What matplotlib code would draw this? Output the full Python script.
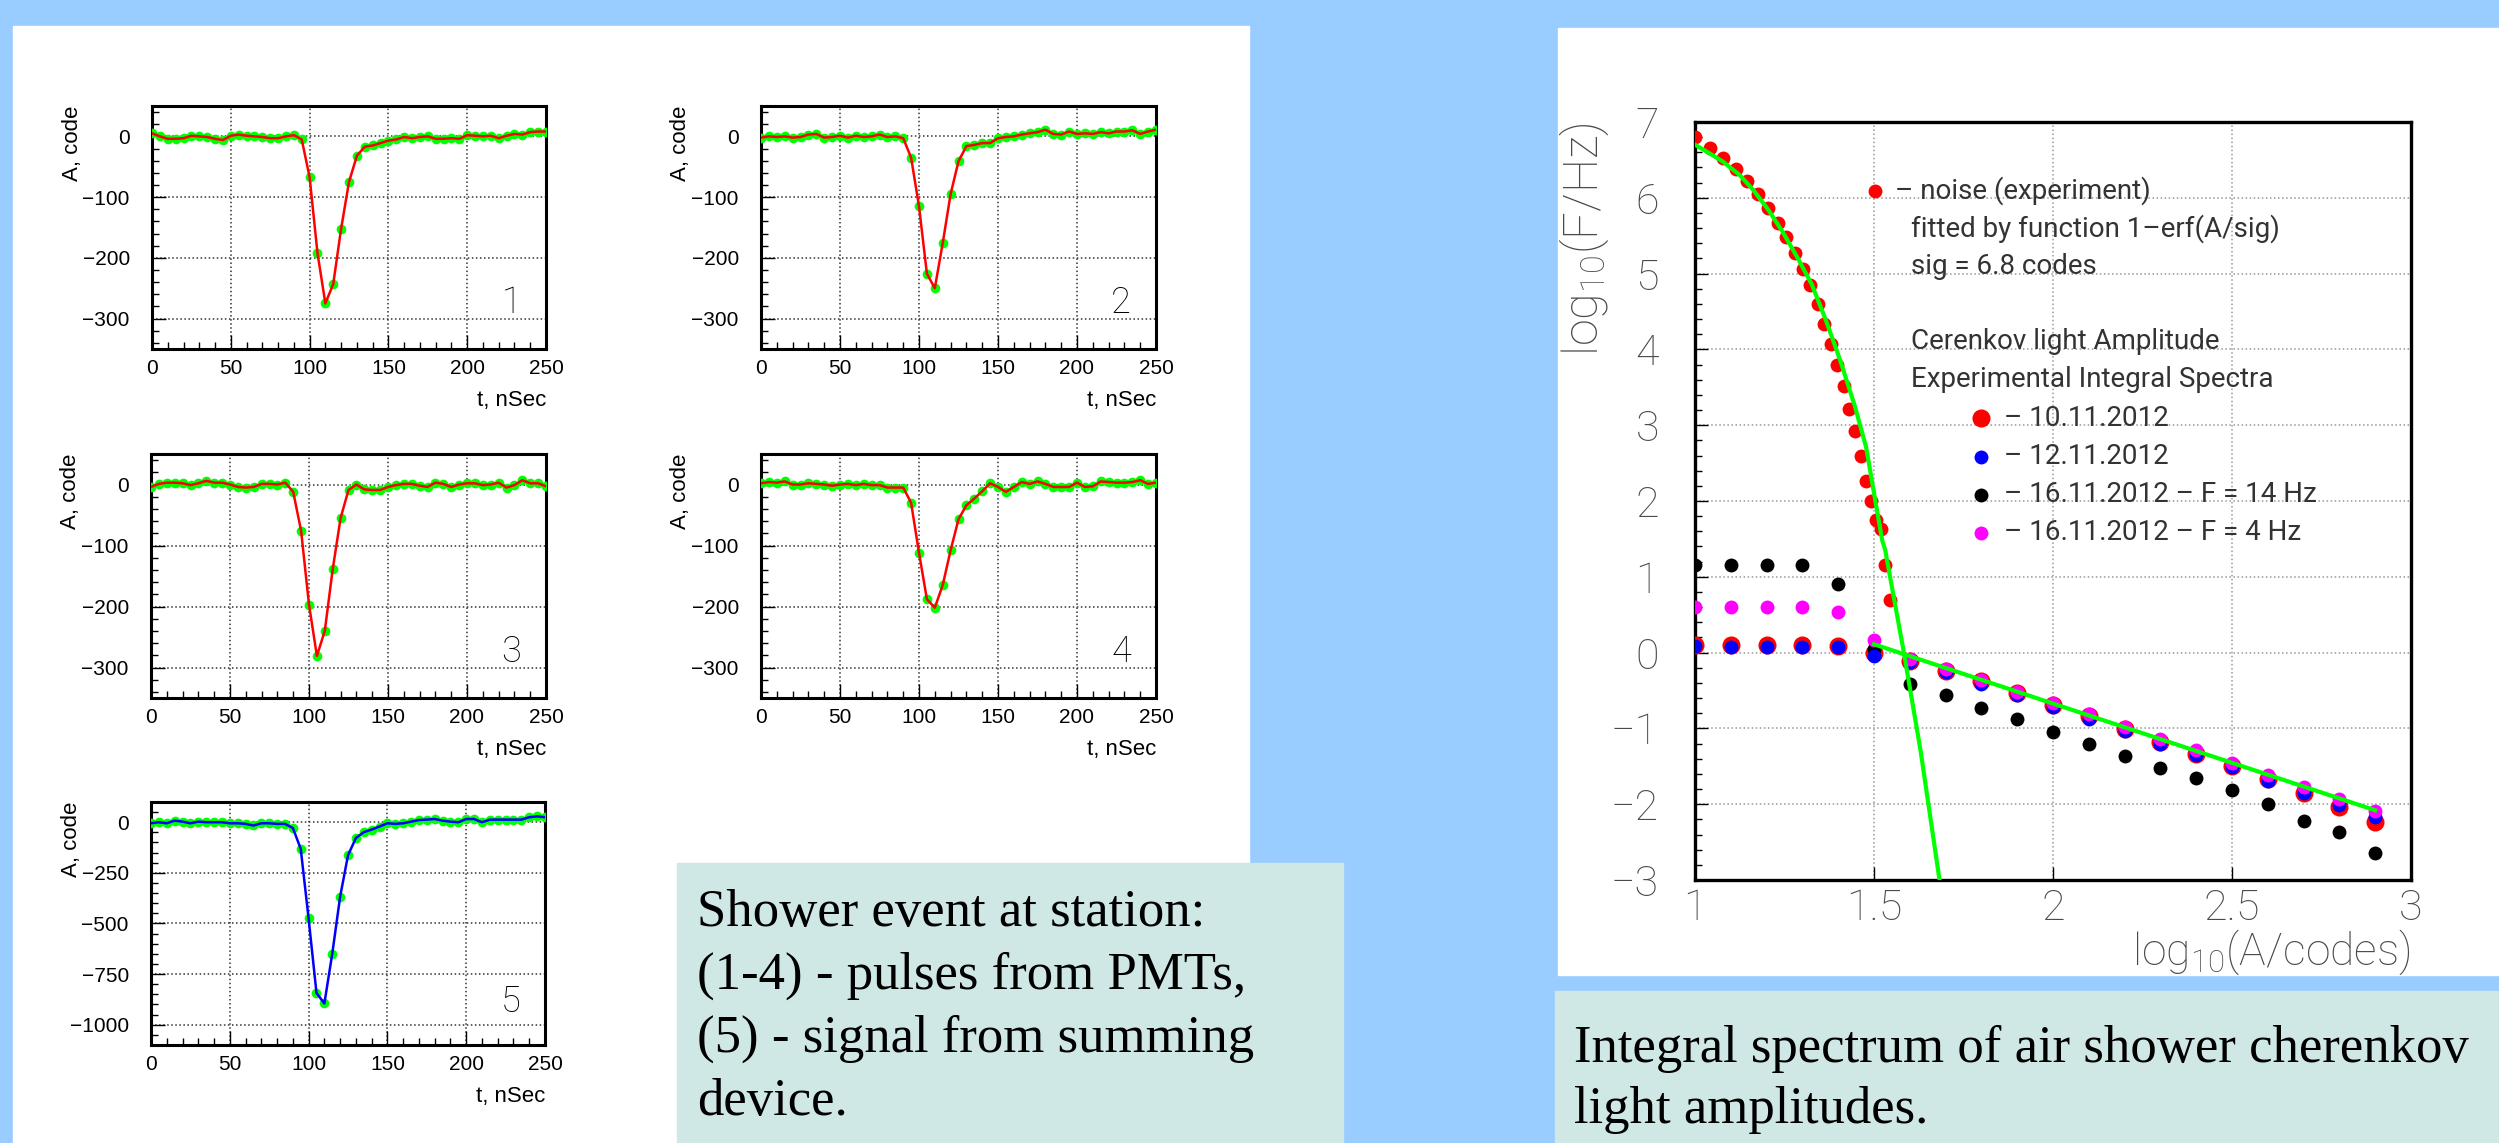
import numpy as np
import matplotlib
matplotlib.use('Agg')
import matplotlib.pyplot as plt
from matplotlib.patches import Rectangle
from matplotlib.ticker import MultipleLocator, NullLocator, FormatStrFormatter

W, H = 2499, 1143

# ---- pulses (sampled every 5 nSec) ----
t_ns = [0, 5, 10, 15, 20, 25, 30, 35, 40, 45, 50, 55, 60, 65, 70, 75, 80, 85, 90, 95,
        100, 105, 110, 115, 120, 125, 130, 135, 140, 145, 150, 155, 160, 165, 170, 175,
        180, 185, 190, 195, 200, 205, 210, 215, 220, 225, 230, 235, 240, 245, 250]

pulse_1 = [5, 0, -4, -4, -3, 1, 0, -1, -4, -6,
           1, 3, 1, 0, -1, -3, -3, 0, 2, -5,
           -67, -192, -275, -243, -152, -75, -32, -17, -15, -11,
           -7, -5, -1, -3, -1, 0, -4, -4, -3, -4,
           2, 1, 0, 1, -3, 1, 4, 3, 7, 8, 8]
pulse_2 = [-2, 0, -1, 0, -2, -1, 3, 4, -2, -1,
           1, -2, 1, -1, 0, 3, -1, 0, -3, -35,
           -115, -226, -250, -176, -95, -41, -16, -14, -11, -11,
           -3, -1, 0, 3, 5, 7, 11, 4, 3, 8,
           4, 5, 4, 7, 5, 8, 8, 10, 4, 8, 11]
pulse_3 = [-4, 1, 3, 3, 2, -1, 2, 6, 3, 3,
           0, -4, -5, -4, 1, 1, 0, 3, -12, -76,
           -197, -281, -240, -139, -55, -9, 0, -8, -9, -9,
           -4, -1, 1, 1, -2, -4, 3, 1, -4, 0,
           2, 2, -1, 0, 3, -5, -1, 7, 2, 2, -3]
pulse_4 = [2, 4, 3, 5, 0, 0, 2, 1, 0, -2,
           0, 1, -1, 1, -1, -1, -5, -5, -5, -30,
           -112, -188, -202, -165, -108, -57, -34, -23, -11, 2,
           -4, -12, -4, 4, 1, 5, 1, -4, -4, -4,
           3, -4, -3, 5, 4, 3, 3, 4, 7, 1, 3]
pulse_sum = [-5, 0, -5, 8, 3, -5, 3, 0, 0, 0,
             -5, -5, -8, -16, -5, -5, -8, -8, -28, -131,
             -475, -843, -895, -650, -368, -163, -78, -49, -36, -21,
             -5, -8, -5, 3, 11, 13, 16, 8, 3, 0,
             16, 16, 0, 13, 13, 13, 13, 13, 25, 29, 25]

# ---- integral spectra ----
noise_amp = [10, 11, 12, 13, 14, 15, 16, 17, 18, 19, 20, 21, 22,
             23, 24, 25, 26, 27, 28, 29, 30, 31, 32, 33, 34, 35]
noise_logF = [6.80, 6.66, 6.52, 6.38, 6.22, 6.05, 5.87, 5.67, 5.48, 5.27, 5.06, 4.85, 4.60,
              4.34, 4.07, 3.80, 3.52, 3.22, 2.92, 2.59, 2.27, 2.00, 1.75, 1.63, 1.15, 0.69]

log_amp = [1.0, 1.1, 1.2, 1.3, 1.4, 1.5, 1.6, 1.7, 1.8, 1.9,
           2.0, 2.1, 2.2, 2.3, 2.4, 2.5, 2.6, 2.7, 2.8, 2.9]
spec_1011 = [0.10, 0.10, 0.10, 0.10, 0.09, -0.01, -0.11, -0.24, -0.37, -0.53,
             -0.69, -0.84, -1.01, -1.18, -1.34, -1.50, -1.67, -1.85, -2.04, -2.23]
spec_1211 = [0.09, 0.08, 0.08, 0.08, 0.07, -0.04, -0.12, -0.25, -0.41, -0.56,
             -0.72, -0.87, -1.03, -1.20, -1.35, -1.51, -1.69, -1.85, -2.01, -2.17]
spec_1611_14 = [1.15, 1.15, 1.15, 1.15, 0.90, 0.05, -0.41, -0.56, -0.73, -0.88,
                -1.05, -1.21, -1.36, -1.52, -1.65, -1.81, -2.00, -2.22, -2.37, -2.64]
spec_1611_4 = [0.60, 0.60, 0.60, 0.60, 0.54, 0.17, -0.08, -0.22, -0.36, -0.52,
               -0.67, -0.81, -0.98, -1.14, -1.29, -1.45, -1.62, -1.77, -1.93, -2.09]

erf_fit_x = [1.000, 1.029, 1.077, 1.125, 1.165, 1.205, 1.245, 1.285, 1.326, 1.366,
             1.406, 1.446, 1.478, 1.502, 1.523, 1.531, 1.582, 1.630, 1.683]
erf_fit_y = [6.70, 6.62, 6.48, 6.30, 6.09, 5.84, 5.55, 5.22, 4.86, 4.38,
             3.85, 3.26, 2.71, 2.05, 1.48, 1.36, 0.04, -1.29, -3.0]
pow_fit_x = [1.50, 2.90]
pow_fit_y = [0.11, -2.08]

plt.rcParams['font.family'] = ['Roboto', 'DejaVu Sans']
plt.rcParams['font.weight'] = 'light'

fig = plt.figure(figsize=(W / 100, H / 100), dpi=100)
fig.patch.set_facecolor('#99CCFF')


def px_rect(x0, y0, x1, y1):
    return [x0 / W, 1 - y1 / H, (x1 - x0) / W, (y1 - y0) / H]


bg = fig.add_axes([0, 0, 1, 1])
bg.set_xlim(0, W)
bg.set_ylim(H, 0)
bg.axis('off')
bg.add_patch(Rectangle((13, 26), 1249 - 13, H - 26, color='white'))
bg.add_patch(Rectangle((1558, 28), W - 1558, 975 - 28, color='white'))
bg.add_patch(Rectangle((677, 863), 1343 - 677, H - 863, color='#CFE7E5'))
bg.add_patch(Rectangle((1555, 991), W - 1555, H - 991, color='#CFE7E5'))

serif = dict(family=['Liberation Serif'], fontsize=38, weight='normal', color='black')
left_caption = ['Shower event at station:', '(1-4) - pulses from PMTs,',
                '(5) - signal from summing', 'device.']
for i, line in enumerate(left_caption):
    bg.text(697, 926 + 63 * i, line, va='baseline', ha='left', **serif)
right_caption = ['Integral spectrum of air shower cherenkov', 'light amplitudes.']
for i, line in enumerate(right_caption):
    bg.text(1574, 1062 + 61 * i, line, va='baseline', ha='left', **serif)

sans = dict(family=['Liberation Sans'], weight='normal')


def pulse_panel(rect, values, line_color, ylim, ystep, yminor, label, label_y):
    ax = fig.add_axes(px_rect(*rect))
    ax.plot(t_ns, values, 'o', color='#00FF00', ms=7, mec='none', zorder=3)
    ax.plot(t_ns, values, '-', color=line_color, lw=1.8, zorder=4)
    ax.set_xlim(0, 250)
    ax.set_ylim(*ylim)
    ax.xaxis.set_major_locator(MultipleLocator(50))
    ax.xaxis.set_minor_locator(MultipleLocator(10))
    ax.yaxis.set_major_locator(MultipleLocator(ystep))
    ax.yaxis.set_minor_locator(MultipleLocator(yminor))
    ax.tick_params(which='both', direction='in', top=False, right=False,
                   labelsize=15, labelfontfamily='Liberation Sans')
    ax.tick_params(which='major', length=10, width=1)
    ax.tick_params(which='minor', length=5, width=1)
    ax.tick_params(axis='y', pad=16)
    ax.tick_params(axis='x', pad=7)
    ax.grid(True, which='major', ls=':', color='#333333', lw=1.1)
    for s in ax.spines.values():
        s.set_linewidth(2.2)
    ax.text(1.0, -0.21, 't, nSec', transform=ax.transAxes, ha='right', va='center',
            fontsize=16, **sans)
    ax.text(-0.203, 1.0, 'A, code', transform=ax.transAxes, rotation=90,
            ha='center', va='top', fontsize=16, **sans)
    ax.text(228, label_y, label, fontsize=26, ha='center', va='center', color='black')
    return ax


pulse_panel((152, 106, 546, 349), pulse_1, 'red', (-350, 50), 100, 20, '1', -275)
pulse_panel((761, 106, 1156, 349), pulse_2, 'red', (-350, 50), 100, 20, '2', -275)
pulse_panel((151, 454, 546, 698), pulse_3, 'red', (-350, 50), 100, 20, '3', -275)
pulse_panel((761, 454, 1156, 698), pulse_4, 'red', (-350, 50), 100, 20, '4', -275)
pulse_panel((151, 802, 545, 1045), pulse_sum, 'blue', (-1100, 100), 250, 50, '5', -890)

# ---- integral spectrum ----
ax = fig.add_axes(px_rect(1695, 122, 2411, 880))
ax.plot(np.log10(noise_amp), noise_logF, 'o', color='red', ms=10, mec='none', zorder=3)
ax.plot(log_amp, spec_1011, 'o', color='red', ms=13, mec='none', zorder=3)
ax.plot(log_amp, spec_1611_14, 'o', color='black', ms=10, mec='none', zorder=3)
ax.plot(log_amp, spec_1211, 'o', color='blue', ms=10, mec='none', zorder=3)
ax.plot(log_amp, spec_1611_4, 'o', color='magenta', ms=10, mec='none', zorder=3)
ax.plot(erf_fit_x, erf_fit_y, '-', color='#00FF00', lw=3, zorder=4)
ax.plot(pow_fit_x, pow_fit_y, '-', color='#00FF00', lw=3, zorder=4)
ax.set_xlim(1, 3)
ax.set_ylim(-3, 7)
ax.xaxis.set_major_locator(MultipleLocator(0.5))
ax.xaxis.set_major_formatter(FormatStrFormatter('%g'))
ax.xaxis.set_minor_locator(NullLocator())
ax.yaxis.set_major_locator(MultipleLocator(1))
ax.yaxis.set_minor_locator(MultipleLocator(0.2))
ax.tick_params(which='both', direction='in', top=False, right=False,
               labelsize=31, labelcolor='#4a4a4a')
ax.tick_params(which='major', length=9.5, width=1)
ax.tick_params(which='minor', length=5, width=1)
ax.tick_params(axis='y', pad=26)
ax.tick_params(axis='x', pad=6)
ax.grid(True, which='major', ls=':', color='#999999', lw=1.1)
for s in ax.spines.values():
    s.set_linewidth(2.4)
ax.text(-0.155, 1.0, r'$\mathregular{log_{10}(F/Hz)}$', transform=ax.transAxes,
        rotation=90, ha='center', va='top', fontsize=35, color='#4a4a4a')
ax.text(1.0, -0.095, r'$\mathregular{log_{10}(A/codes)}$', transform=ax.transAxes,
        ha='right', va='center', fontsize=32, color='#4a4a4a')

txt = dict(fontsize=20, color='#333333', va='center', ha='left', weight='normal')
ax.plot([1.502], [6.09], 'o', color='red', ms=10, mec='none')
ax.text(1.558, 6.09, '– noise (experiment)', **txt)
ax.text(1.603, 5.59, 'fitted by function 1–erf(A/sig)', **txt)
ax.text(1.603, 5.10, 'sig = 6.8 codes', **txt)
ax.text(1.603, 4.10, 'Cerenkov light Amplitude', **txt)
ax.text(1.603, 3.60, 'Experimental Integral Spectra', **txt)
legend_rows = [('red', 13, '– 10.11.2012'), ('blue', 10, '– 12.11.2012'),
               ('black', 10, '– 16.11.2012 – F = 14 Hz'), ('magenta', 10, '– 16.11.2012 – F = 4 Hz')]
for i, (c, ms, lab) in enumerate(legend_rows):
    yy = 3.09 - 0.503 * i
    ax.plot([1.80], [yy], 'o', color=c, ms=ms, mec='none')
    ax.text(1.863, yy, lab, **txt)

fig.savefig('out.png', dpi=100, facecolor=fig.get_facecolor())
